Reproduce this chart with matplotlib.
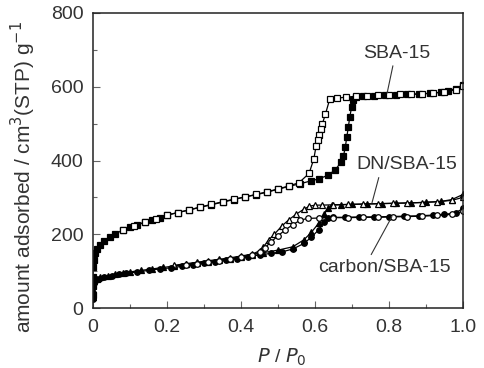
import matplotlib
matplotlib.use('Agg')
import matplotlib.pyplot as plt
from matplotlib.ticker import MultipleLocator

plt.rcParams['font.family'] = ['Liberation Sans', 'DejaVu Sans']

# SBA-15 adsorption (filled squares) / desorption (open squares)
sba_ads_p = [0, 0, 0, 0, 0.002, 0.005, 0.01, 0.02, 0.03, 0.045, 0.06, 0.08, 0.10, 0.12,
             0.14, 0.16, 0.18, 0.20, 0.23, 0.26, 0.29, 0.32, 0.35, 0.38, 0.41, 0.44,
             0.47, 0.50, 0.53, 0.56, 0.59, 0.61, 0.635, 0.655, 0.67, 0.677, 0.682,
             0.686, 0.69, 0.694, 0.699, 0.703, 0.712, 0.73, 0.76, 0.79, 0.82, 0.85,
             0.88, 0.91, 0.94, 0.96, 0.98, 1.0]
sba_ads_v = [35, 60, 85, 110, 130, 150, 160, 170, 182, 193, 201, 211, 220, 226,
             232, 238, 244, 252, 259, 266, 273, 280, 287, 294, 301, 307,
             314, 322, 330, 337, 345, 350, 360, 375, 395, 412, 437,
             464, 490, 518, 545, 563, 572, 575, 576, 577, 578, 579,
             580, 582, 585, 589, 595, 605]
sba_des_p = [1.0, 0.98, 0.95, 0.92, 0.89, 0.86, 0.83, 0.80, 0.77, 0.74, 0.71, 0.685,
             0.66, 0.64, 0.628, 0.62, 0.615, 0.611, 0.607, 0.603, 0.597, 0.584, 0.557,
             0.53, 0.50, 0.47, 0.44, 0.41, 0.38, 0.35, 0.32, 0.29, 0.26, 0.23, 0.20,
             0.17, 0.14, 0.11, 0.08]
sba_des_v = [603, 592, 586, 583, 581, 580, 579, 578, 577, 576, 574, 572,
             569, 567, 525, 500, 485, 470, 455, 440, 405, 365, 340,
             331, 323, 315, 308, 301, 295, 288, 281, 274, 266, 259, 252,
             242, 233, 222, 211]

# DN/SBA-15 (triangles)
dn_ads_p = [0, 0, 0, 0.003, 0.01, 0.02, 0.04, 0.06, 0.08, 0.10, 0.13, 0.16, 0.19,
            0.22, 0.25, 0.28, 0.31, 0.34, 0.37, 0.40, 0.43, 0.46, 0.50, 0.54, 0.57,
            0.59, 0.61, 0.625, 0.635, 0.645, 0.67, 0.70, 0.74, 0.78, 0.82, 0.86,
            0.90, 0.94, 0.97, 1.0]
dn_ads_v = [30, 50, 65, 72, 78, 83, 88, 92, 95, 98, 102, 106, 110,
            114, 118, 122, 126, 130, 134, 139, 144, 150, 157, 166, 185,
            205, 230, 255, 270, 279, 280, 281, 282, 283, 284, 285,
            287, 289, 294, 308]
dn_des_p = [1.0, 0.97, 0.93, 0.89, 0.85, 0.81, 0.77, 0.73, 0.69, 0.65, 0.62, 0.60,
            0.585, 0.57, 0.55, 0.53, 0.51, 0.49, 0.475, 0.46, 0.45, 0.43, 0.40,
            0.37, 0.34, 0.31, 0.28, 0.25, 0.22]
dn_des_v = [300, 292, 288, 286, 285, 284, 283, 282, 281, 280, 279, 279,
            276, 268, 255, 240, 222, 200, 185, 165, 155, 146, 141,
            136, 132, 128, 124, 120, 116]

# carbon/SBA-15 (circles)
c_ads_p = [0, 0, 0, 0.002, 0.008, 0.015, 0.03, 0.05, 0.07, 0.09, 0.12, 0.15, 0.18,
           0.21, 0.24, 0.27, 0.30, 0.33, 0.36, 0.39, 0.42, 0.45, 0.48, 0.51, 0.54,
           0.57, 0.59, 0.61, 0.625, 0.635, 0.65, 0.68, 0.72, 0.76, 0.80, 0.84,
           0.88, 0.92, 0.95, 0.98, 1.0]
c_ads_v = [25, 40, 58, 68, 75, 80, 84, 88, 91, 94, 98, 102, 106,
           109, 113, 117, 121, 125, 129, 134, 139, 144, 148, 152, 160,
           175, 192, 212, 232, 244, 246, 246, 247, 247, 248, 249,
           250, 252, 254, 258, 270]
c_des_p = [1.0, 0.97, 0.93, 0.89, 0.85, 0.81, 0.77, 0.73, 0.69, 0.65, 0.61, 0.58,
           0.56, 0.54, 0.52, 0.50, 0.48, 0.465, 0.45, 0.43, 0.40, 0.37, 0.34,
           0.31, 0.28, 0.25]
c_des_v = [262, 254, 251, 249, 248, 247, 246, 246, 245, 245, 244, 243,
           238, 226, 212, 196, 178, 164, 152, 143, 137, 132, 128,
           124, 120, 116]

x_ticks = [0, 0.2, 0.4, 0.6, 0.8, 1.0]
x_ticklabels = ['0', '0.2', '0.4', '0.6', '0.8', '1.0']
y_ticks = [0, 200, 400, 600, 800]

fig = plt.figure(figsize=(4.85, 3.68), dpi=100)
ax = fig.add_axes([0.1918, 0.163, 0.7628, 0.8017])

ms = 4.0
lw = 0.9
mew = 0.9
txt = '#333333'
ax.plot(sba_ads_p, sba_ads_v, '-s', color='k', mfc='k', ms=ms, lw=lw, mew=mew)
ax.plot(sba_des_p, sba_des_v, '-s', color='k', mfc='white', ms=ms, lw=lw, mew=mew)
ax.plot(dn_ads_p, dn_ads_v, '-^', color='k', mfc='k', ms=ms, lw=lw, mew=mew)
ax.plot(dn_des_p, dn_des_v, '-^', color='k', mfc='white', ms=ms, lw=lw, mew=mew)
ax.plot(c_ads_p, c_ads_v, '-o', color='k', mfc='k', ms=ms, lw=lw, mew=mew)
ax.plot(c_des_p, c_des_v, '-o', color='k', mfc='white', ms=ms, lw=lw, mew=mew)

ax.set_xlim(0, 1.0)
ax.set_ylim(0, 800)
ax.set_xticks(x_ticks)
ax.set_xticklabels(x_ticklabels)
ax.set_yticks(y_ticks)
ax.xaxis.set_minor_locator(MultipleLocator(0.1))
ax.yaxis.set_minor_locator(MultipleLocator(100))
ax.tick_params(which='both', direction='in', top=False, right=False,
               labelsize=14, labelcolor=txt, color='#666666', width=0.8)
ax.tick_params(which='major', length=5)
ax.tick_params(axis='x', which='major', pad=8)
ax.tick_params(axis='y', which='major', pad=7)
ax.tick_params(which='minor', length=3)
for s in ax.spines.values():
    s.set_linewidth(1.1)
    s.set_color('#222222')

ax.set_xlabel(r'$\it{P}$ / $\it{P}_0$', fontsize=14, color=txt, va='center')
ax.xaxis.set_label_coords(0.511, -0.166)
ax.set_ylabel(r'amount adsorbed / cm$^3$(STP) g$^{-1}$', fontsize=15, color=txt, va='center')
ax.yaxis.set_label_coords(-0.189, 0.444)

arrow = dict(arrowstyle='-', color='#333333', lw=0.8, shrinkA=1, shrinkB=0)
ax.annotate('SBA-15', xy=(0.795, 583), xytext=(0.822, 691), ha='center', va='center',
            fontsize=14, color=txt, arrowprops=dict(arrow, relpos=(0.45, 0)))
ax.annotate('DN/SBA-15', xy=(0.754, 285), xytext=(0.849, 388), ha='center', va='center',
            fontsize=14, color=txt, arrowprops=dict(arrow, relpos=(0.23, 0)))
ax.annotate('carbon/SBA-15', xy=(0.808, 248), xytext=(0.789, 111), ha='center', va='center',
            fontsize=14, color=txt, arrowprops=dict(arrow, relpos=(0.38, 1)))

fig.savefig('out.png', dpi=100)
